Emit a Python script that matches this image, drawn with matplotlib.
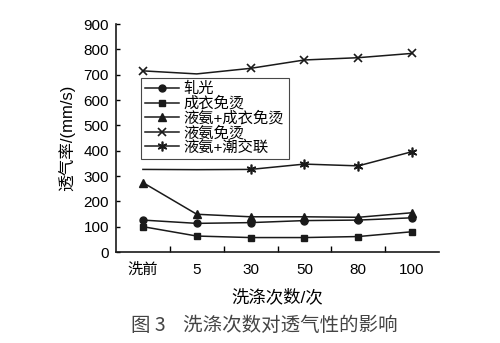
import matplotlib
matplotlib.use('Agg')
import matplotlib.pyplot as plt
import numpy as np

plt.rcParams['font.family'] = ['Liberation Sans', 'Noto Sans CJK SC', 'DejaVu Sans']

# data
wash_labels = ['洗前', '5', '30', '50', '80', '100']
series_names = ['轧光', '成衣免烫', '液氨+成衣免烫', '液氨免烫', '液氨+潮交联']
calendered = [126, 113, 116, 124, 126, 135]
garment_dp = [100, 63, 57, 57, 61, 80]
ammonia_garment = [274, 149, 139, 139, 137, 155]
ammonia_dp = [715, 703, 725, 758, 767, 784]
ammonia_moist = [326, 325, 326, 347, 340, 396]

fig = plt.figure(figsize=(5, 3.43), dpi=100)
ax = fig.add_axes([116 / 500, 1 - 252 / 343, 323 / 500, 228 / 343])

x = np.arange(len(wash_labels)) + 0.5
lc = '#1a1a1a'
ax.plot(x, calendered, color=lc, lw=1.1, marker='o', ms=5, label=series_names[0])
ax.plot(x, garment_dp, color=lc, lw=1.1, marker='s', ms=5, label=series_names[1])
ax.plot(x, ammonia_garment, color=lc, lw=1.1, marker='^', ms=6, label=series_names[2])
ax.plot(x, ammonia_dp, color=lc, lw=1.1, marker='x', ms=6, mew=1.2,
        markevery=[0, 2, 3, 4, 5], label=series_names[3])
ax.plot(x, ammonia_moist, color=lc, lw=1.1, marker=(6, 2, 0), ms=7, mew=1.2,
        markevery=[2, 3, 4, 5], label=series_names[4])

ax.set_xlim(0, len(wash_labels))
ax.set_ylim(0, 900)
ax.set_yticks(np.arange(0, 901, 100))
ax.set_xticks(np.arange(1, len(wash_labels)))
ax.set_xticklabels([])
ax.set_xticks(x, minor=True)
ax.set_xticklabels(wash_labels, minor=True)
ax.tick_params(axis='x', which='major', direction='in', length=4, width=1)
ax.tick_params(axis='x', which='minor', length=0, pad=8, labelsize=11)
ax.tick_params(axis='y', direction='in', length=3, width=1, labelsize=11, pad=5)

for s in ['top', 'right']:
    ax.spines[s].set_visible(False)
for s in ['left', 'bottom']:
    ax.spines[s].set_linewidth(1.2)
    ax.spines[s].set_color(lc)

ax.set_ylabel('透气率/(mm/s)', fontsize=12, labelpad=6)
ax.set_xlabel('洗涤次数/次', fontsize=12.5, labelpad=8)

leg = ax.legend(loc='upper left', bbox_to_anchor=(0.077, 0.765), fontsize=11,
                frameon=True, fancybox=False, edgecolor=lc, borderpad=0.3,
                labelspacing=0.0, handlelength=2.2, handletextpad=0.3,
                borderaxespad=0)
leg.get_frame().set_linewidth(0.8)

fig.text(0.528, 1 - 325 / 343, '图 3    洗涤次数对透气性的影响', ha='center', va='center',
         fontsize=14, color='#444444', family=['Noto Sans CJK SC', 'DejaVu Sans'])

fig.savefig('out.png', dpi=100)
